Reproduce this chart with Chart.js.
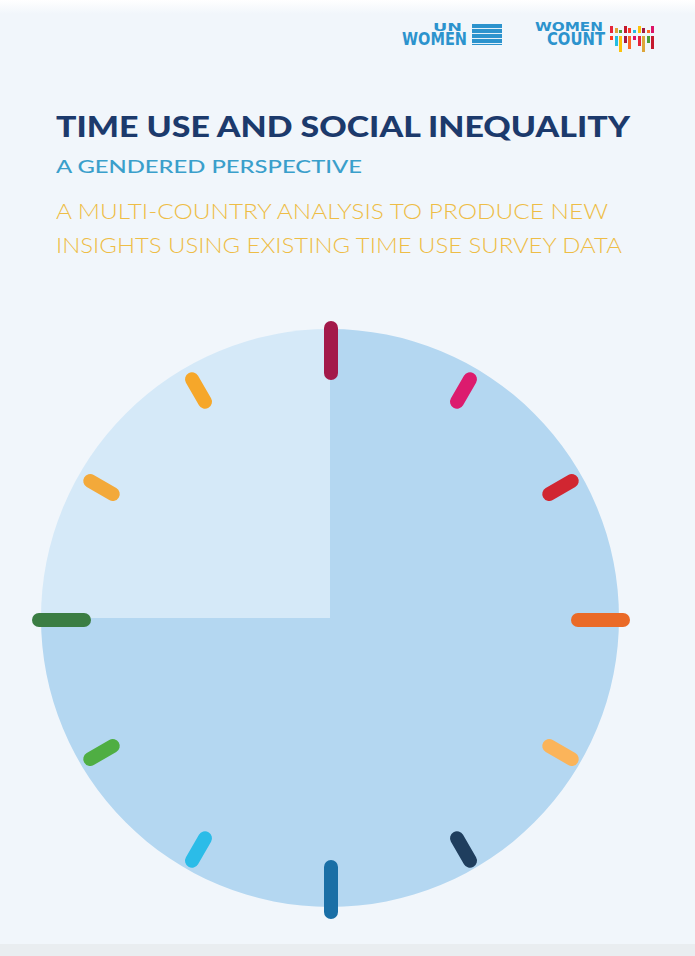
<!DOCTYPE html>
<html>
<head>
<meta charset="utf-8">
<script src="https://cdn.jsdelivr.net/npm/chart.js@4.4.1/dist/chart.umd.min.js"></script>
<style>
  html, body { margin: 0; padding: 0; }
  body {
    width: 695px; height: 956px; position: relative; overflow: hidden;
    background: #f1f6fb;
    font-family: Lato, "Open Sans", sans-serif;
  }
  .topband { position: absolute; left: 0; top: 0; width: 695px; height: 14px;
    background: linear-gradient(#ffffff, #f1f6fb); }
  .bottomband { position: absolute; left: 0; top: 944px; width: 695px; height: 12px; background: #e9edf0; }
  .fit { position: absolute; white-space: nowrap; transform-origin: 0 0; line-height: 1; }
  #title { left: 56px; top: 112px; font-size: 28px; font-weight: 900; color: #1c3a6c; }
  #subtitle { left: 56px; top: 157px; font-size: 18px; font-weight: 500; color: #3a9fcb; }
  #line1 { left: 56px; top: 200px; font-size: 21px; font-weight: 300; color: #eebd46; }
  #line2 { left: 56px; top: 234px; font-size: 21px; font-weight: 300; color: #eebd46; }
  .logo { color: #2c93cd; font-weight: 700; font-family: "DejaVu Sans Condensed", "Liberation Sans Narrow", sans-serif; }
  .icon { position: absolute; left: 472px; top: 24px; width: 30px; height: 21px;
    background: repeating-linear-gradient(#2c93cd 0 4px, #e3f0f9 4px 5px); }
  .bar { position: absolute; width: 3px; }
  canvas { position: absolute; }
</style>
</head>
<body>
<div class="topband"></div>
<div class="bottomband"></div>

<div class="fit logo" data-w="29" style="left:433px; top:23px; font-size:10px;">UN</div>
<div class="fit logo" data-w="65" style="left:402px; top:31px; font-size:17px;">WOMEN</div>
<div class="icon"></div>
<div class="fit logo" data-w="68" style="left:535px; top:21px; font-size:12px;">WOMEN</div>
<div class="fit logo" data-w="58" style="left:547px; top:31px; font-size:17px;">COUNT</div>
<div id="bars"></div>

<div class="fit" id="title" data-w="574">TIME USE AND SOCIAL INEQUALITY</div>
<div class="fit" id="subtitle" data-w="306">A GENDERED PERSPECTIVE</div>
<div class="fit" id="line1" data-w="552">A MULTI-COUNTRY ANALYSIS TO PRODUCE NEW</div>
<div class="fit" id="line2" data-w="566">INSIGHTS USING EXISTING TIME USE SURVEY DATA</div>

<canvas id="face" width="578" height="578" style="left:41px; top:329px;"></canvas>
<canvas id="ticks" width="640" height="640" style="left:11px; top:300px;"></canvas>

<script>
// clock face: minutes of the hour
const faceLabels = ['0-45 min', '45-60 min'];
const faceMinutes = [45, 15];
const faceColors = ['#b4d7f1', '#d5e9f8'];

// hour marks
const hours = [12, 1, 2, 3, 4, 5, 6, 7, 8, 9, 10, 11];
const majorHours = [12, 3, 6, 9];
const tickColors = ['#a3194a', '#dc1b6e', '#d12631', '#ea6a27', '#fbb45a', '#1f3e5e',
                    '#1a6fa6', '#2bbce8', '#4fae43', '#3b7d43', '#f3a93a', '#f6a72a'];

// little coloured strokes of the Women Count logo
const logoColors = ['#e5243b', '#dda63a', '#4c9f38', '#c5192d', '#ff3a21', '#26bde2',
                    '#fcc30b', '#a21942', '#fd6925', '#dd1367'];
const barsEl = document.getElementById('bars');
logoColors.forEach((c, i) => {
  const top = document.createElement('div');
  top.className = 'bar';
  top.style.cssText = 'left:' + (610 + i * 4.6) + 'px; top:' + (26 + (i % 3) * 2) + 'px; height:' + (7 - (i % 3) * 2) + 'px; background:' + c;
  barsEl.appendChild(top);
  const low = document.createElement('div');
  low.className = 'bar';
  low.style.cssText = 'left:' + (610 + i * 4.6) + 'px; top:36px; height:' + (4 + ((i * 7) % 5) * 3) + 'px; background:' + logoColors[(i + 4) % logoColors.length];
  barsEl.appendChild(low);
});

// stretch text lines to the widths seen on the cover
document.querySelectorAll('.fit').forEach(el => {
  const w = el.getBoundingClientRect().width;
  el.style.transform = 'scaleX(' + (el.dataset.w / w) + ')';
});

new Chart(document.getElementById('face'), {
  type: 'pie',
  data: {
    labels: faceLabels,
    datasets: [{ data: faceMinutes, backgroundColor: faceColors, borderWidth: 0 }]
  },
  options: {
    responsive: false,
    animation: false,
    plugins: { legend: { display: false }, tooltip: { enabled: false } }
  }
});

const MAJOR = { inner: 247, outer: 292, width: 14 };
const MINOR = { inner: 252, outer: 278, width: 14 };

const tickSets = hours.map((h, i) => {
  const st = majorHours.includes(h) ? MAJOR : MINOR;
  const a = h * Math.PI / 6;
  return {
    label: h + " o'clock",
    data: [
      { x: st.inner * Math.sin(a), y: st.inner * Math.cos(a) },
      { x: st.outer * Math.sin(a), y: st.outer * Math.cos(a) }
    ],
    showLine: true,
    borderColor: tickColors[i],
    borderWidth: st.width,
    borderCapStyle: 'round',
    pointRadius: 0
  };
});

new Chart(document.getElementById('ticks'), {
  type: 'scatter',
  data: { datasets: tickSets },
  options: {
    responsive: false,
    animation: false,
    layout: { padding: 0 },
    scales: {
      x: { display: false, min: -320, max: 320 },
      y: { display: false, min: -320, max: 320 }
    },
    plugins: { legend: { display: false }, tooltip: { enabled: false } }
  }
});
</script>
</body>
</html>
